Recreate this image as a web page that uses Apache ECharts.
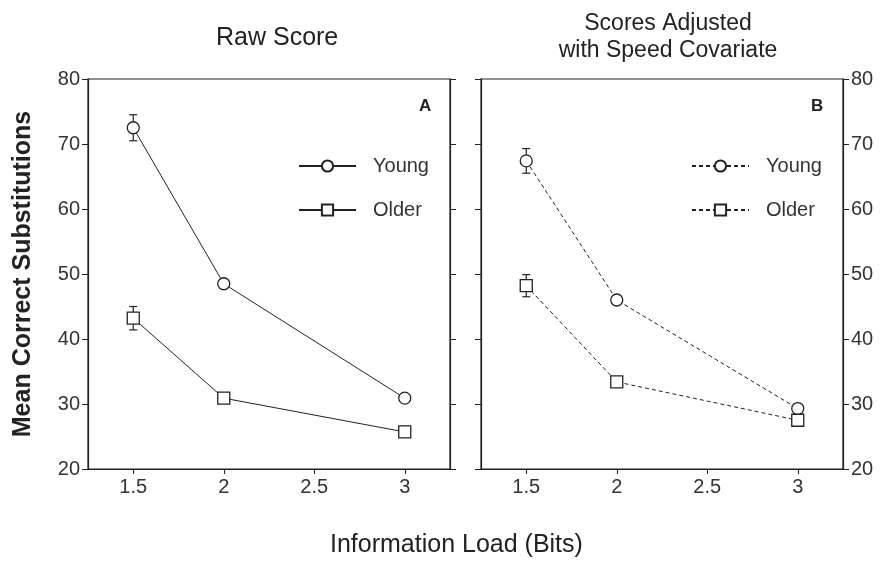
<!DOCTYPE html>
<html>
<head>
<meta charset="utf-8">
<script src="https://cdn.jsdelivr.net/npm/echarts@6/dist/echarts.min.js"></script>
<style>
  html, body { margin: 0; padding: 0; background: #fff; }
  #chart { width: 881px; height: 563px; }
</style>
</head>
<body>
<div id="chart"></div>
<script>
// information load (bits)
const loads = [1.5, 2, 3];
const tickLoads = [1.5, 2, 2.5, 3];

// panel A: raw score
const rawYoung = [72.5, 48.5, 30.9];
const rawOlder = [43.2, 30.9, 25.7];
const rawYoungErr = [2.0, 0, 0];
const rawOlderErr = [1.8, 0, 0];

// panel B: adjusted with speed covariate
const adjYoung = [67.4, 46.0, 29.3];
const adjOlder = [48.2, 33.4, 27.5];
const adjYoungErr = [1.9, 0, 0];
const adjOlderErr = [1.7, 0, 0];

const ink = '#222';
const font = 'Liberation Sans, Arial, sans-serif';

const chart = echarts.init(document.getElementById('chart'));

const pairs = (vals) => loads.map((x, i) => [x, vals[i]]);

// error bars with caps, drawn under the markers
const errSeries = (name, idx, vals, errs) => ({
  name: name,
  type: 'custom',
  xAxisIndex: idx,
  yAxisIndex: idx * 2,
  z: 1,
  silent: true,
  data: loads.map((x, i) => [x, vals[i], errs[i]]).filter(d => d[2] > 0),
  renderItem: function (params, api) {
    const x = api.value(0), v = api.value(1), e = api.value(2);
    const top = api.coord([x, v + e]);
    const bot = api.coord([x, v - e]);
    const cap = 4;
    const style = { stroke: ink, lineWidth: 1.2 };
    return {
      type: 'group',
      children: [
        { type: 'line', shape: { x1: top[0], y1: top[1], x2: bot[0], y2: bot[1] }, style: style },
        { type: 'line', shape: { x1: top[0] - cap, y1: top[1], x2: top[0] + cap, y2: top[1] }, style: style },
        { type: 'line', shape: { x1: bot[0] - cap, y1: bot[1], x2: bot[0] + cap, y2: bot[1] }, style: style }
      ]
    };
  }
});

const lineSeries = (name, idx, vals, symbol, dashed) => ({
  name: name,
  type: 'line',
  xAxisIndex: idx,
  yAxisIndex: idx * 2,
  z: 3,
  data: pairs(vals),
  symbol: symbol,
  symbolSize: 12,
  showAllSymbols: true,
  lineStyle: { color: ink, width: 1, type: dashed ? [4, 3] : 'solid' },
  itemStyle: { color: '#fff', borderColor: ink, borderWidth: 1.3 },
  emphasis: { disabled: true }
});

const xAxisFor = (idx) => ({
  type: 'value',
  gridIndex: idx,
  min: 1.25,
  max: 3.25,
  axisLine: { show: true, onZero: false, lineStyle: { color: ink, width: 1.2 } },
  axisTick: { show: true, customValues: tickLoads, length: 5, lineStyle: { color: ink } },
  axisLabel: { customValues: tickLoads, color: '#333', fontSize: 20, fontFamily: font, margin: 8 },
  splitLine: { show: false }
});

const yAxisFor = (idx, pos, labels) => ({
  type: 'value',
  gridIndex: idx,
  position: pos,
  min: 20,
  max: 80,
  interval: 10,
  axisLine: { show: true, lineStyle: { color: ink, width: 1.2 } },
  axisTick: { show: true, length: 6, lineStyle: { color: ink } },
  axisLabel: { show: labels, color: '#333', fontSize: 20, fontFamily: font, margin: 8 },
  splitLine: { show: false }
});

const legendFor = (left, names) => ({
  orient: 'vertical',
  left: left,
  top: 151,
  itemWidth: 57,
  itemHeight: 14,
  itemGap: 24,
  data: names,
  formatter: (n) => n.slice(2),
  textStyle: { color: '#333', fontSize: 20, fontFamily: font, padding: [0, 0, 0, 12] },
  selectedMode: false
});

const option = {
  backgroundColor: '#fff',
  animation: false,
  title: [
    { text: 'Raw Score', left: 211, top: 21,
      textStyle: { color: '#222', fontSize: 25, fontWeight: 'normal', fontFamily: font } },
    { text: 'Scores Adjusted\nwith Speed Covariate', left: 663, top: 5, textAlign: 'center',
      textStyle: { color: '#222', fontSize: 23, fontWeight: 'normal', fontFamily: font, lineHeight: 27 } },
    { text: 'A', left: 414, top: 93,
      textStyle: { color: '#222', fontSize: 17, fontWeight: 'bold', fontFamily: font } },
    { text: 'B', left: 806, top: 93,
      textStyle: { color: '#222', fontSize: 17, fontWeight: 'bold', fontFamily: font } }
  ],
  grid: [
    { left: 88, top: 79, width: 362, height: 390, show: true, borderColor: ink, borderWidth: 1.2, backgroundColor: 'transparent' },
    { left: 481, top: 79, width: 362, height: 390, show: true, borderColor: ink, borderWidth: 1.2, backgroundColor: 'transparent' }
  ],
  xAxis: [xAxisFor(0), xAxisFor(1)],
  yAxis: [
    Object.assign(yAxisFor(0, 'left', true), {
      name: 'Mean Correct Substitutions',
      nameLocation: 'middle',
      nameGap: 52,
      nameTextStyle: { color: '#222', fontSize: 25, fontWeight: 'bold', fontFamily: font }
    }),
    yAxisFor(0, 'right', false),
    yAxisFor(1, 'left', false),
    yAxisFor(1, 'right', true)
  ],
  legend: [
    legendFor(293, ['A-Young', 'A-Older']),
    legendFor(686, ['B-Young', 'B-Older'])
  ],
  graphic: [
    { type: 'text', left: 330, top: 533,
      style: { text: 'Information Load (Bits)', fill: '#222', fontSize: 25, fontFamily: font } }
  ],
  series: [
    errSeries('errA-Young', 0, rawYoung, rawYoungErr),
    errSeries('errA-Older', 0, rawOlder, rawOlderErr),
    errSeries('errB-Young', 1, adjYoung, adjYoungErr),
    errSeries('errB-Older', 1, adjOlder, adjOlderErr),
    lineSeries('A-Young', 0, rawYoung, 'circle', false),
    lineSeries('A-Older', 0, rawOlder, 'rect', false),
    lineSeries('B-Young', 1, adjYoung, 'circle', true),
    lineSeries('B-Older', 1, adjOlder, 'rect', true)
  ]
};

chart.setOption(option);
</script>
</body>
</html>
